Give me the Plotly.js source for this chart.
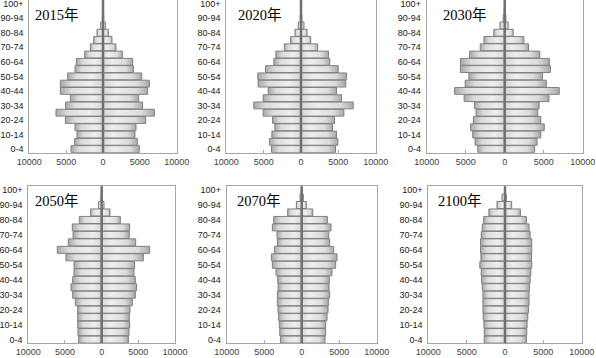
<!DOCTYPE html>
<html><head><meta charset="utf-8">
<script src="https://cdn.plot.ly/plotly-3.0.1.min.js"></script>
<style>html,body{margin:0;padding:0;background:#fff;}#chart{width:596px;height:358px;}</style>
</head><body><div id="chart"></div>
<script>
const ageGroups = ['0-4','5-9','10-14','15-19','20-24','25-29','30-34','35-39','40-44','45-49','50-54','55-59','60-64','65-69','70-74','75-79','80-84','85-89','90-94','95-99','100+'];
const yTickLabels = ['0-4','10-14','20-24','30-34','40-44','50-54','60-64','70-74','80-84','90-94','100+'];
const xTickVals = [-10000,-5000,0,5000,10000];
const xTickText = ['10000','5000','0','5000','10000'];
const years = ['2015年','2020年','2030年','2050年','2070年','2100年'];

const left2015  = [4340,3850,3530,3800,5110,6380,5070,4430,5790,5790,4800,3800,3620,2490,1720,1270,810,320,90,20,3];
const right2015 = [4930,4660,4340,4480,5790,6970,5380,4840,6060,6290,5250,4120,4030,2620,1760,1220,720,320,100,25,5];
const left2020  = [3950,4220,3900,3500,3810,5070,6320,5070,4390,5740,5780,4750,3630,3360,2240,1390,810,360,100,20,3];
const right2020 = [4620,4930,4750,4220,4480,5740,6990,5430,4750,5990,6100,4980,3850,3680,2240,1300,810,400,120,30,5];
const left2030  = [3450,3800,4100,4370,4020,3670,3890,5200,6420,5070,4590,5680,5680,4500,3140,2660,1400,610,200,50,5];
const right2030 = [3840,4150,4630,5070,4630,4240,4410,5680,6990,5330,4850,5850,5720,4500,3060,2460,1090,440,150,40,10];
const left2050  = [3140,3230,3270,3270,3270,3590,3950,4180,3950,3770,3770,4870,6050,4550,3900,4000,3050,1500,410,80,10];
const right2050 = [3640,3730,3820,3770,3860,4180,4590,4770,4590,4410,4500,5680,6550,4640,3770,3820,2550,1140,320,50,10];
const left2070  = [2840,2930,2980,3070,3160,3250,3250,3150,3200,3420,3910,4040,3640,3240,3290,3910,3730,1870,710,220,50];
const right2070 = [3110,3200,3200,3380,3510,3560,3730,3640,3690,4040,4530,4710,4270,3730,3600,3910,3420,1470,620,220,40];
const left2100  = [2710,2710,2750,2840,2880,2880,2880,2970,3060,3100,3280,3140,3190,3190,3100,2970,2790,2100,1050,390,50];
const right2100 = [2790,2840,2880,2970,3060,3140,3140,3190,3280,3370,3490,3450,3490,3490,3280,3140,2790,2010,870,170,20];

const leftSeries = [left2015,left2020,left2030,left2050,left2070,left2100];
const rightSeries = [right2015,right2020,right2030,right2050,right2070,right2100];

const W = 596, H = 358;
// plot boxes in px: [left, right, top, bottom]
const boxes = [
  [29.3,176.7,0,152.7],[226.3,375.7,0,152.7],[426.7,582.7,0,152.7],
  [28.3,175,186.3,343.3],[226.7,376.7,186.3,343.3],[428.3,581.7,186.3,343.3]
];
const titlePos = [[33,15],[236,15],[441,15],[33,200.5],[235,200.5],[436,200.5]];

const data = [], shapes = [], annotations = [];
const layout = {
  width: W, height: H, margin: {l:0,r:0,t:0,b:0},
  paper_bgcolor: '#ffffff', plot_bgcolor: '#ffffff',
  showlegend: false, barmode: 'overlay', bargap: 0.06,
  font: {family: 'Liberation Sans, Arial, sans-serif', size: 9, color: '#262626'}
};
for (let i = 0; i < 6; i++) {
  const sfx = i === 0 ? '' : String(i + 1);
  const xa = 'x' + sfx, ya = 'y' + sfx;
  const b = boxes[i];
  data.push({type:'bar', orientation:'h', y: ageGroups, x: leftSeries[i].map(v => -v),
    xaxis: xa, yaxis: ya, meta: 'L', marker: {color:'#dedede', line:{color:'#808080', width:1}}, hoverinfo:'skip'});
  data.push({type:'bar', orientation:'h', y: ageGroups, x: rightSeries[i],
    xaxis: xa, yaxis: ya, meta: 'R', marker: {color:'#dedede', line:{color:'#808080', width:1}}, hoverinfo:'skip'});
  layout['xaxis' + sfx] = {
    domain: [b[0]/W, b[1]/W], anchor: ya, range: [-10000, 10000],
    tickmode: 'array', tickvals: xTickVals, ticktext: xTickText,
    showgrid: false, zeroline: false, showline: true, mirror: true, linecolor: '#a6a6a6', linewidth: 1,
    ticks: 'inside', ticklen: 3, tickcolor: '#a6a6a6',
    tickfont: {size: 9, color: '#404040'}, fixedrange: true
  };
  layout['yaxis' + sfx] = {
    domain: [1 - b[3]/H, 1 - b[2]/H], anchor: xa, type: 'category',
    categoryorder: 'array', categoryarray: ageGroups, range: [-0.5, 20.5],
    tickmode: 'array', tickvals: yTickLabels, ticktext: yTickLabels,
    showgrid: false, zeroline: false, showline: true, mirror: true, linecolor: '#a6a6a6', linewidth: 1,
    ticks: '', ticklabelstandoff: 3,
    tickfont: {size: 9, color: '#1a1a1a'}, fixedrange: true
  };
  shapes.push({type:'line', xref: xa, yref: ya + ' domain', x0: 0, x1: 0, y0: 0, y1: 1,
    line: {color: '#707070', width: 2.5}, layer: 'above'});
  annotations.push({xref:'paper', yref:'paper', x: titlePos[i][0]/W, y: 1 - titlePos[i][1]/H,
    xanchor:'left', yanchor:'middle', showarrow:false, text: years[i],
    font: {family: 'Liberation Serif, Times New Roman, Noto Sans CJK SC, serif', size: 14.5, color: '#000'}});
}
layout.shapes = shapes;
layout.annotations = annotations;

Plotly.newPlot('chart', data, layout, {staticPlot: true, displayModeBar: false}).then(gd => {
  try {
    const svgNS = 'http://www.w3.org/2000/svg';
    const svg = gd.querySelector('svg.main-svg');
    let defs = svg.querySelector('defs');
    if (!defs) { defs = document.createElementNS(svgNS, 'defs'); svg.insertBefore(defs, svg.firstChild); }
    function mk(id, stops) {
      const g = document.createElementNS(svgNS, 'linearGradient');
      g.setAttribute('id', id); g.setAttribute('x1','0'); g.setAttribute('y1','0'); g.setAttribute('x2','1'); g.setAttribute('y2','0');
      stops.forEach(s => { const st = document.createElementNS(svgNS, 'stop'); st.setAttribute('offset', s[0]); st.setAttribute('stop-color', s[1]); g.appendChild(st); });
      defs.appendChild(g);
    }
    const rs = [[0,'#d6d6d6'],[0.3,'#eeeeee'],[0.75,'#dcdcdc'],[1,'#a8a8a8']];
    mk('gradR', rs);
    mk('gradL', rs.map(s => [1 - s[0], s[1]]).reverse());
    gd.querySelectorAll('.barlayer .trace').forEach(t => {
      const cd = t.__data__;
      const side = cd && cd[0] && cd[0].trace ? cd[0].trace.meta : 'R';
      t.querySelectorAll('path').forEach(p => { p.style.fill = side === 'L' ? 'url(#gradL)' : 'url(#gradR)'; });
    });
  } catch (e) {}
});
</script>
</body></html>
